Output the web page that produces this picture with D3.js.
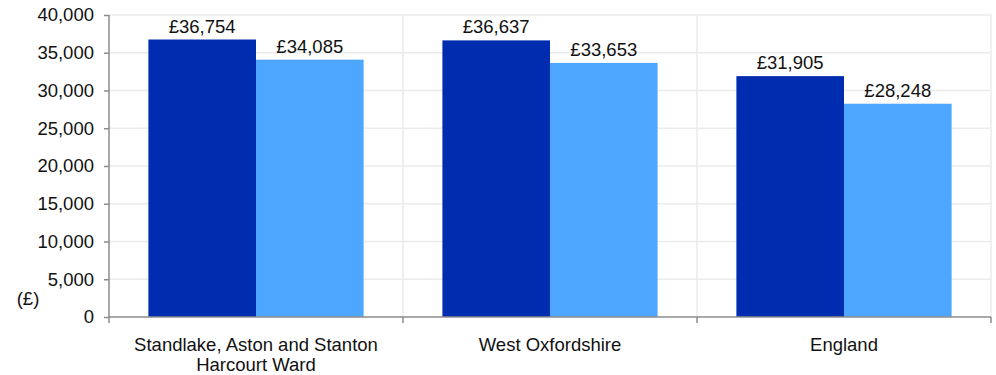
<!DOCTYPE html>
<html><head><meta charset="utf-8">
<script src="https://cdn.jsdelivr.net/npm/d3@7"></script>
<style>body{margin:0;background:#fff}svg{display:block}text{font-family:"Liberation Sans",Arial,sans-serif;fill:#111}</style>
</head><body><svg id="c" width="996" height="375"></svg>
<script>
const categories = [["Standlake, Aston and Stanton","Harcourt Ward"],["West Oxfordshire"],["England"]];
const series1 = [36754, 36637, 31905];
const series2 = [34085, 33653, 28248];
const yTicks = [0,5000,10000,15000,20000,25000,30000,35000,40000];
const colors = ["#002DB0","#4DA6FF"];

const FS = 18.5;
const svg = d3.select("#c");
const m = {l:109, r:991, t:15, b:317};
const x = d3.scaleBand().domain(d3.range(categories.length)).range([m.l,m.r]).paddingInner(0).paddingOuter(0);
const y = d3.scaleLinear().domain([0,40000]).range([m.b,m.t]);
const inner = 0.134;
const bw = x.bandwidth();
const barW = bw*(1-2*inner)/2;

// horizontal grid
svg.append("g").selectAll("line").data(yTicks.slice(1)).join("line")
  .attr("x1",m.l).attr("x2",m.r).attr("y1",d=>y(d)).attr("y2",d=>y(d))
  .attr("stroke","#ebebeb").attr("stroke-width",1.5);
// vertical grid
svg.append("g").selectAll("line").data(d3.range(1,categories.length+1)).join("line")
  .attr("x1",i=>x(i-1)+bw).attr("x2",i=>x(i-1)+bw).attr("y1",m.t).attr("y2",m.b)
  .attr("stroke","#ebebeb").attr("stroke-width",1.5);

// bars
const data = categories.map((c,i)=>({i, vals:[series1[i],series2[i]]}));
const g = svg.append("g");
data.forEach(d=>{
  d.vals.forEach((v,j)=>{
    const bx = x(d.i)+bw*inner+j*barW;
    g.append("rect").attr("x",bx).attr("y",y(v)).attr("width",barW).attr("height",y(0)-y(v)).attr("fill",colors[j]);
    g.append("text").attr("x",bx+barW/2).attr("y",y(v)-7).attr("text-anchor","middle")
      .attr("font-size",FS).text("£"+d3.format(",")(v));
  });
});

// y axis
const ya = svg.append("g").attr("transform",`translate(${m.l},0)`)
  .call(d3.axisLeft(y).tickValues(yTicks).tickFormat(d3.format(",")).tickSize(5).tickPadding(10));
ya.select(".domain").attr("stroke","#8c8c8c").attr("stroke-width",1.5).attr("d",`M0,${m.t}V${m.b}`);
ya.selectAll(".tick line").attr("stroke","#8c8c8c").attr("stroke-width",1.5);
ya.selectAll(".tick text").attr("font-size",FS).attr("fill","#111");

// x axis
const xa = svg.append("g");
xa.append("line").attr("x1",m.l).attr("x2",m.r).attr("y1",m.b).attr("y2",m.b).attr("stroke","#8c8c8c").attr("stroke-width",1.5);
xa.selectAll(".xt").data(d3.range(categories.length+1)).join("line")
  .attr("x1",i=>m.l+i*bw).attr("x2",i=>m.l+i*bw).attr("y1",m.b).attr("y2",m.b+6)
  .attr("stroke","#8c8c8c").attr("stroke-width",1.5);
categories.forEach((lines,i)=>{
  const t = xa.append("text").attr("x",x(i)+bw/2).attr("y",351).attr("text-anchor","middle").attr("font-size",FS);
  lines.forEach((l,k)=>t.append("tspan").attr("x",x(i)+bw/2).attr("dy",k?20:0).text(l));
});

svg.append("text").attr("x",28).attr("y",305).attr("text-anchor","middle").attr("font-size",FS).text("(£)");
</script></body></html>
